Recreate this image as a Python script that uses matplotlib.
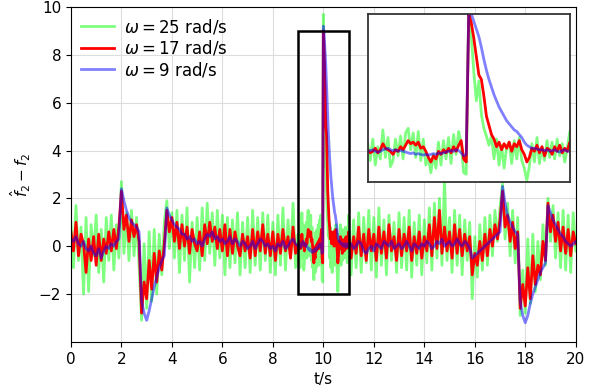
import numpy as np
import matplotlib
matplotlib.use("Agg")
import matplotlib.pyplot as plt
from matplotlib.patches import Rectangle

# time grid: coarse 0-8.9, fine 9-10.975 (zoomed part), coarse 11-20
t = np.round(np.concatenate([np.arange(90) * 0.1,
                             9 + np.arange(80) * 0.025,
                             11 + np.arange(91) * 0.1]), 3)

# omega = 9 rad/s
blue_a = [0.3, 0.2, 0.4, 0.1, 0.0, 0.2, -0.1, -0.2, 0.0, -0.3,
          -0.4, -0.1, -0.5, -0.2, 0.0, -0.1, 0.1, 0.0, 0.2, 0.3,
          2.4, 1.9, 1.5, 1.2, 1.0, 0.9, 0.8, 0.6, -2.3, -2.8,
          -3.1, -2.7, -2.2, -1.7, -1.3, -0.9, -0.6, -0.4, 1.6, 1.3,
          1.1, 0.9, 0.8, 0.7, 0.5, 0.5, 0.3, 0.4, 0.2, 0.3,
          0.1, 0.2, 0.0, 0.3, 0.5, 0.4, 0.6, 0.3, 0.4, 0.2,
          0.3, 0.1, 0.2, 0.4, 0.1, 0.3, 0.2, 0.0, 0.2, 0.1,
          -0.1, 0.0, 0.2, -0.1, 0.1, 0.3, 0.2, 0.0, 0.1, -0.1,
          0.0, -0.2, 0.1, 0.0, 0.2, -0.1, 0.0, 0.2, 0.3, 0.1]
blue_b = [0.0, 0.05, 0.1, 0.0, -0.05, 0.0, 0.1, 0.15,
          0.2, 0.1, 0.05, 0.1, 0.0, 0.05, 0.0, -0.05,
          -0.1, -0.15, -0.1, -0.2, -0.15, -0.2, -0.25, -0.2,
          -0.25, -0.2, -0.15, -0.2, -0.1, -0.15, -0.1, -0.05,
          0.0, 0.05, 0.0, 0.1, 0.05, -0.1, -0.3, -0.2,
          9.2, 9.0, 8.5, 8.0, 7.5, 6.8, 6.0, 5.3,
          4.7, 4.2, 3.7, 3.3, 2.9, 2.6, 2.3, 2.0,
          1.8, 1.6, 1.4, 1.3, 1.1, 0.9, 0.6, 0.4,
          0.3, 0.2, 0.2, 0.15, 0.1, 0.1, 0.05, 0.1,
          0.0, 0.05, 0.1, 0.0, -0.05, 0.05, 0.1, 0.0]
blue_c = [0.0, 0.1, -0.1, 0.0, 0.2, 0.1, -0.2, -0.3, -0.1, 0.0,
          -0.2, 0.1, 0.0, -0.1, 0.2, 0.1, 0.0, 0.2, -0.1, 0.0,
          0.1, -0.1, 0.0, 0.2, 0.0, -0.2, 0.1, 0.0, -0.1, 0.1,
          0.0, 0.2, 0.1, -0.1, 0.0, 0.2, 0.1, 0.3, 0.0, 0.1,
          0.2, 0.0, 0.1, 0.3, 0.1, 0.0, 0.2, 0.1, -0.1, -0.5,
          -0.4, -0.3, -0.2, -0.1, 0.0, 0.1, 0.2, 0.3, 0.4, 0.5,
          0.6, 2.5, 1.8, 1.3, 1.0, 0.8, 0.6, 0.5, -2.3, -2.9,
          -3.2, -2.9, -2.4, -2.0, -1.7, -1.4, -1.1, -0.9, -0.7, 1.7,
          1.4, 1.1, 0.9, 0.7, 0.5, 0.4, 0.2, 0.1, 0.0, 0.1,
          0.2]

# omega = 17 rad/s
red_a = [0.6, -0.2, 1.0, -0.4, 0.5, 0.1, -1.1, 0.3, -0.6, 0.4,
         -0.8, 0.5, -0.6, 0.3, -0.3, 0.6, -0.2, 0.7, -0.1, 0.8,
         2.3, 0.7, 1.3, 0.2, 1.1, 0.4, 0.9, 0.2, -2.8, -1.5,
         -2.2, -0.6, -1.8, -0.3, -1.5, -0.2, -1.0, 0.1, 1.5, 0.6,
         1.2, 0.2, 1.0, -0.1, 0.9, 0.0, 0.8, -0.3, 0.7, 0.1,
         -0.2, 0.6, -0.4, 0.9, 0.1, 1.0, 0.2, 0.8, -0.1, 0.7,
         -0.2, 0.9, -0.4, 0.7, -0.3, 0.6, 0.0, -0.4, 0.5, -0.2,
         0.4, -0.5, 0.7, -0.4, 0.6, -0.2, 0.9, -0.3, 0.5, -0.4,
         0.6, -0.6, 0.5, -0.3, 0.7, -0.2, 0.4, -0.5, 0.8, -0.3]
red_b = [0.1, -0.1, 0.0, 0.2, -0.1, 0.1, 0.5, 0.2,
         0.1, 0.0, -0.2, 0.1, 0.0, 0.3, 0.1, 0.4,
         0.7, 0.5, 0.6, 0.4, 0.6, 0.2, 0.3, 0.0,
         -0.4, -0.7, -0.3, -0.5, 0.0, -0.2, 0.1, -0.1,
         0.2, -0.1, 0.3, 0.0, 0.4, 0.7, -0.5, -0.7,
         9.0, 8.4, 7.4, 6.2, 5.0, 4.7, 3.6, 2.3,
         1.7, 1.1, 0.8, 0.3, 0.6, 0.1, 0.5, 0.2,
         0.6, 0.0, 0.5, 0.3, 0.7, 0.1, -0.2, -0.7,
         -0.4, 0.2, 0.0, 0.4, -0.1, 0.3, -0.3, 0.2,
         0.1, -0.2, 0.3, 0.0, 0.4, -0.1, 0.2, 0.0]
red_c = [0.6, -0.5, 0.4, -0.3, 0.8, -0.4, 0.5, -0.6, 0.7, -0.2,
         0.5, -0.6, 0.8, -0.3, 0.6, -0.5, 0.9, -0.2, 0.4, -0.6,
         0.7, -0.4, 0.5, -0.2, 0.8, -0.6, 0.4, -0.3, 0.6, -0.5,
         0.4, -0.2, 0.9, -0.4, 1.2, -0.1, 1.5, -0.3, 0.8, -0.2,
         0.6, -0.5, 0.9, -0.3, 0.7, -0.4, 0.5, -0.2, 0.4, -1.2,
         -0.3, -0.8, 0.2, -0.6, 0.5, -0.4, 0.7, 0.0, 0.9, 0.3,
         1.1, 2.3, 0.8, 1.3, 0.2, 1.0, -0.1, 0.6, -2.6, -1.6,
         -2.5, -0.9, -2.2, -0.4, -1.6, -0.8, -1.2, 0.2, -0.6, 1.8,
         0.6, 1.3, 0.2, 1.0, -0.2, 0.8, -0.3, 0.7, -0.4, 0.6,
         0.1]

# omega = 25 rad/s
green_a = [1.0, -0.9, 1.7, -0.6, 0.8, -2.0, 1.2, -1.9, 0.9, -0.4,
           1.3, -1.1, 0.7, -1.5, 1.2, -0.6, 1.3, -1.0, 0.9, -0.5,
           2.7, -0.3, 1.4, -0.6, 1.5, -0.4, 1.2, -0.8, -3.1, 0.1,
           -2.6, 0.6, -2.3, 0.7, -2.0, 0.5, -1.2, 1.0, 1.9, -0.1,
           1.4, -0.5, 1.5, -1.1, 1.3, -0.6, 1.6, -1.5, 1.0, -0.9,
           1.2, -1.0, 1.6, -0.6, 1.8, -0.3, 1.4, -0.8, 1.5, -0.5,
           1.3, -1.2, 1.2, -0.9, 1.1, -0.7, 1.4, -1.2, 1.0, -0.9,
           1.2, -1.1, 1.5, -0.8, 1.2, -1.0, 1.4, -0.6, 1.3, -1.1,
           1.0, -1.2, 1.3, -0.8, 1.6, -1.0, 1.1, -0.5, 1.8, -0.9]
green_b = [0.5, -0.6, 0.8, -0.9, 0.3, -0.5, 1.4, -0.4,
           0.9, -1.0, -0.6, 0.8, -0.3, 1.0, -0.5, 1.2,
           1.5, 0.1, 1.2, -0.4, 1.3, -0.6, 0.8, -0.9,
           -0.4, -1.4, -0.2, -1.1, 0.6, -0.9, 0.7, -0.5,
           0.9, -0.8, 1.1, -0.2, 1.3, 0.5, -1.4, -1.5,
           9.7, 7.5, 5.2, 3.3, 4.6, 2.4, 1.5, 1.0,
           0.4, 1.0, -0.5, 0.8, -0.9, 0.4, -1.1, 0.3,
           0.6, -0.8, 0.7, -0.5, 0.9, -0.6, -1.1, -1.9,
           -1.0, 0.5, -0.7, 0.9, -0.8, 0.3, -0.6, 0.7,
           -0.4, 0.6, -0.5, 0.8, -0.3, 0.5, -0.7, 0.2]
green_c = [1.3, -1.2, 1.1, -0.9, 1.4, -1.1, 1.2, -0.7, 1.5, -1.0,
           1.2, -1.3, 1.6, -0.8, 1.1, -1.2, 1.3, -0.6, 1.0, -1.1,
           1.4, -0.9, 1.2, -1.0, 1.5, -1.3, 1.0, -0.8, 1.3, -1.2,
           1.1, -0.7, 1.6, -1.0, 1.8, -0.5, 2.0, -0.8, 2.8, -0.6,
           1.2, -1.1, 1.5, -0.8, 1.3, -1.2, 1.1, -0.6, 1.0, -2.2,
           0.4, -1.3, 0.9, -1.0, 1.2, -0.8, 1.3, -0.4, 1.5, 0.2,
           1.6, 2.6, 0.3, 1.8, -0.4, 1.5, -0.7, 1.2, -2.9, -1.0,
           -2.8, 0.3, -2.4, 0.5, -1.9, 0.2, -1.4, 0.9, -0.8, 2.0,
           0.2, 1.7, -0.5, 1.4, -0.9, 1.5, -1.0, 1.3, -1.1, 1.4,
           -0.2]

green = np.array(green_a + green_b + green_c)
red = np.array(red_a + red_b + red_c)
blue = np.array(blue_a + blue_b + blue_c)

fig = plt.figure(figsize=(5.96, 3.92), dpi=100)
ax = fig.add_axes([0.119, 0.128, 0.847, 0.854])

ax.plot(t, green, color="#00ff00", alpha=0.5, lw=2, label=r"$\omega = 25$ rad/s")
ax.plot(t, red, color="red", lw=2, label=r"$\omega = 17$ rad/s")
ax.plot(t, blue, color="blue", alpha=0.5, lw=2, label=r"$\omega = 9$ rad/s")
ax.add_patch(Rectangle((9, -2), 2, 11, fill=False, ec="black", lw=1.8, zorder=5))

ax.set_xlim(0, 20)
ax.set_ylim(-4, 10)
ax.set_xticks(np.arange(0, 21, 2))
ax.set_yticks([-2, 0, 2, 4, 6, 8, 10])
ax.tick_params(labelsize=11)
ax.grid(True, color="#dddddd", lw=0.8)
ax.set_xlabel("t/s", fontsize=11)
ax.set_ylabel(r"$\hat{f}_2 - f_2$", fontsize=11)
ax.legend(loc="upper left", frameon=False, fontsize=12, handlelength=2.0,
          labelspacing=0.15, handletextpad=0.6, borderaxespad=0.2)

# zoomed inset
ins = fig.add_axes([0.617, 0.536, 0.339, 0.429])
ins.plot(t, green, color="#00ff00", alpha=0.5, lw=2)
ins.plot(t, red, color="red", lw=2)
ins.plot(t, blue, color="blue", alpha=0.5, lw=2)
ins.set_xlim(9, 11)
ins.set_ylim(-2, 9)
ins.set_xticks([])
ins.set_yticks([])
for s in ins.spines.values():
    s.set_linewidth(1.3)
    s.set_color("#333333")

fig.savefig("out.png", dpi=100)
